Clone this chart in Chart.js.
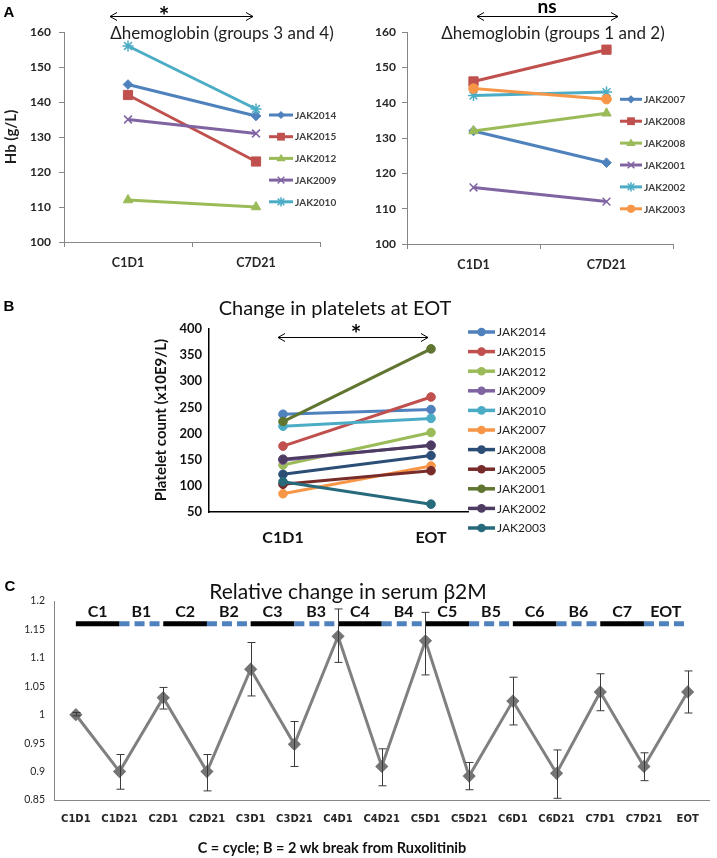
<!DOCTYPE html>
<html>
<head>
<meta charset="utf-8">
<script src="https://cdn.jsdelivr.net/npm/chart.js@4.4.1/dist/chart.umd.min.js"></script>
<style>
html,body{margin:0;padding:0;background:#fff;}
#page{position:relative;width:717px;height:858px;overflow:hidden;background:#fff;}
canvas{position:absolute;}
.t{position:absolute;white-space:nowrap;line-height:1;transform:translate(-50%,-50%);font-family:Lato,"Noto Sans",sans-serif;color:#1e1e1e;}
.rot{transform:translate(-50%,-50%) rotate(-90deg);}
.letter{font-family:"Liberation Sans",Arial,sans-serif;font-weight:bold;font-size:15px;color:#000;}
svg{position:absolute;left:0;top:0;}
</style>
</head>
<body>
<div id="page">
<canvas id="cA1" width="355" height="280" style="left:0;top:0"></canvas>
<canvas id="cA2" width="362" height="280" style="left:355px;top:0"></canvas>
<canvas id="cB" width="430" height="265" style="left:140px;top:290px"></canvas>
<canvas id="cC" width="717" height="265" style="left:0;top:570px"></canvas>

<svg width="717" height="858" viewBox="0 0 717 858">
  <g stroke="#000" stroke-width="1" fill="none">
    <path d="M110 16.5 L253 16.5 M117 12.5 L110 16.5 L117 20.5 M246 12.5 L253 16.5 L246 20.5"/>
    <path d="M477 16.5 L618 16.5 M484 12.5 L477 16.5 L484 20.5 M611 12.5 L618 16.5 L611 20.5"/>
    <path d="M278 337.5 L428 337.5 M285 333.5 L278 337.5 L285 341.5 M421 333.5 L428 337.5 L421 341.5"/>
  </g>
</svg>

<div class="t letter" style="left:9px;top:11px">A</div>
<div class="t letter" style="left:9px;top:305px">B</div>
<div class="t letter" style="left:10px;top:585px">C</div>

<div class="t" style="left:164px;top:15px;font-weight:bold;font-size:25px;color:#000">*</div>
<div class="t" style="left:547px;top:5px;font-weight:bold;font-size:19px;color:#000">ns</div>
<div class="t" style="left:356px;top:333px;font-weight:bold;font-size:25px;color:#000">*</div>

<div class="t" style="left:222px;top:32px;font-size:17px">Δhemoglobin (groups 3 and 4)</div>
<div class="t" style="left:553px;top:32px;font-size:17px">Δhemoglobin (groups 1 and 2)</div>
<div class="t rot" style="left:10px;top:137px;font-size:15px;font-weight:bold">Hb (g/L)</div>

<div class="t" style="left:335px;top:307px;font-size:20px;color:#111">Change in platelets at EOT</div>
<div class="t rot" style="left:160px;top:420px;font-size:15px;font-weight:bold;color:#111">Platelet count (x10E9/L)</div>

<div class="t" style="left:348px;top:590px;font-size:21px;color:#111">Relative change in serum β2M</div>
<div class="t" style="left:332px;top:848px;font-size:14.5px;font-weight:bold;color:#111">C = cycle; B = 2 wk break from Ruxolitinib</div>
</div>

<script>
// ---------------- DATA ----------------
const hbTimepoints = ['C1D1', 'C7D21'];
const hbTicks = [100, 110, 120, 130, 140, 150, 160];

const hbG34Patients = ['JAK2014', 'JAK2015', 'JAK2012', 'JAK2009', 'JAK2010'];
const hbG34Start = [145, 142, 112, 135, 156];
const hbG34End   = [136, 123, 110, 131, 138];

const hbG12Patients = ['JAK2007', 'JAK2008', 'JAK2008', 'JAK2001', 'JAK2002', 'JAK2003'];
const hbG12Start = [132, 146, 132, 116, 142, 144];
const hbG12End   = [123, 155, 137, 112, 143, 141];

const pltTimepoints = ['C1D1', 'EOT'];
const pltTicks = [50, 100, 150, 200, 250, 300, 350, 400];
const pltPatients = ['JAK2014', 'JAK2015', 'JAK2012', 'JAK2009', 'JAK2010', 'JAK2007', 'JAK2008', 'JAK2005', 'JAK2001', 'JAK2002', 'JAK2003'];
const pltStart = [237, 176, 140, 149, 214, 85, 122, 103, 223, 151, 108];
const pltEnd   = [246, 270, 202, 178, 229, 138, 158, 129, 362, 177, 65];

const b2mTimepoints = ['C1D1', 'C1D21', 'C2D1', 'C2D21', 'C3D1', 'C3D21', 'C4D1', 'C4D21', 'C5D1', 'C5D21', 'C6D1', 'C6D21', 'C7D1', 'C7D21', 'EOT'];
const b2mMean    = [1.0, 0.90, 1.03, 0.90, 1.08, 0.948, 1.138, 0.909, 1.13, 0.892, 1.024, 0.897, 1.04, 0.909, 1.04];
const b2mErrUp   = [0.004, 0.03, 0.018, 0.03, 0.047, 0.04, 0.048, 0.031, 0.05, 0.024, 0.042, 0.041, 0.032, 0.024, 0.037];
const b2mErrDown = [0.002, 0.031, 0.02, 0.034, 0.047, 0.039, 0.046, 0.034, 0.06, 0.024, 0.042, 0.044, 0.033, 0.025, 0.037];
const b2mTicks = [0.85, 0.9, 0.95, 1, 1.05, 1.1, 1.15, 1.2];
const phaseLabels = ['C1', 'B1', 'C2', 'B2', 'C3', 'B3', 'C4', 'B4', 'C5', 'B5', 'C6', 'B6', 'C7', 'EOT'];
const phaseLevel = 1.16;

// ---------------- STYLES ----------------
const BLUE = '#4F81BD', RED = '#C0504D', GREEN = '#9BBB59', PURPLE = '#8064A2', CYAN = '#4BACC6', ORANGE = '#F79646';
const hbG34Styles = [
  {c: BLUE, s: 'rectRot', r: 4.8, bw: 1},
  {c: RED, s: 'rect', r: 6.5, bw: 1},
  {c: GREEN, s: 'triangle', r: 5.5, bw: 1},
  {c: PURPLE, s: 'crossRot', r: 5.5, bw: 1.5},
  {c: CYAN, s: 'star', r: 5.5, bw: 1.5}
];
const hbG12Styles = [
  {c: BLUE, s: 'rectRot', r: 4.8, bw: 1},
  {c: RED, s: 'rect', r: 6.5, bw: 1},
  {c: GREEN, s: 'triangle', r: 5.5, bw: 1},
  {c: PURPLE, s: 'crossRot', r: 5.5, bw: 1.5},
  {c: CYAN, s: 'star', r: 5.5, bw: 1.5},
  {c: ORANGE, s: 'circle', r: 4.8, bw: 1}
];
const pltColors = ['#4F81BD', '#C0504D', '#9BBB59', '#8064A2', '#4BACC6', '#F79646', '#2C4D75', '#772C2A', '#5F7530', '#4D3B62', '#276A7C'];

const AXIS_GREY = '#868686';
const TXT = '#262626';

function fixedTicks(values) {
  return function (scale) { scale.ticks = values.map(v => ({value: v})); };
}

function drawMarker(ctx, style, r, x, y) {
  ctx.beginPath();
  if (style === 'circle') {
    ctx.arc(x, y, r, 0, Math.PI * 2); ctx.fill();
  } else if (style === 'rect') {
    const h = r * Math.SQRT1_2; ctx.rect(x - h, y - h, 2 * h, 2 * h); ctx.fill();
  } else if (style === 'rectRot') {
    ctx.moveTo(x, y - r); ctx.lineTo(x + r, y); ctx.lineTo(x, y + r); ctx.lineTo(x - r, y); ctx.closePath(); ctx.fill();
  } else if (style === 'triangle') {
    ctx.moveTo(x, y - r); ctx.lineTo(x + r, y + r * 0.6); ctx.lineTo(x - r, y + r * 0.6); ctx.closePath(); ctx.fill();
  } else if (style === 'crossRot' || style === 'star') {
    const d = r * Math.SQRT1_2;
    ctx.moveTo(x - d, y - d); ctx.lineTo(x + d, y + d);
    ctx.moveTo(x - d, y + d); ctx.lineTo(x + d, y - d);
    if (style === 'star') { ctx.moveTo(x - r, y); ctx.lineTo(x + r, y); ctx.moveTo(x, y - r); ctx.lineTo(x, y + r); }
    ctx.stroke();
  }
}

function legendPlugin(labels, styles, cfg) {
  return {
    id: 'customLegend',
    afterDraw(chart) {
      const ctx = chart.ctx;
      ctx.save();
      labels.forEach((lab, i) => {
        const st = styles[i];
        const y = cfg.y0 + i * cfg.dy;
        ctx.strokeStyle = st.c; ctx.fillStyle = st.c;
        ctx.lineWidth = cfg.lw;
        ctx.beginPath(); ctx.moveTo(cfg.x0, y); ctx.lineTo(cfg.x0 + cfg.len, y); ctx.stroke();
        ctx.lineWidth = st.bw;
        drawMarker(ctx, st.s, st.r * cfg.ms, cfg.x0 + cfg.len / 2, y);
        ctx.fillStyle = cfg.color;
        ctx.font = cfg.font;
        ctx.textAlign = 'left'; ctx.textBaseline = 'middle';
        ctx.fillText(lab, cfg.x0 + cfg.len + cfg.gap, y + 0.5);
      });
      ctx.restore();
    }
  };
}

function boxLayout(canvas, box) {
  return {padding: {left: 0, top: box.top, right: canvas.width - box.right, bottom: 0}};
}

// ---------------- PANEL A ----------------
function hbChart(id, patients, start, end, styles, box, yPad, legendCfg) {
  const cv = document.getElementById(id);
  return new Chart(cv, {
    type: 'line',
    data: {
      labels: hbTimepoints,
      datasets: patients.map((p, i) => ({
        label: p,
        data: [start[i], end[i]],
        borderColor: styles[i].c,
        backgroundColor: styles[i].c,
        pointBackgroundColor: styles[i].c,
        pointBorderColor: styles[i].c,
        pointStyle: styles[i].s,
        pointRadius: styles[i].r,
        pointBorderWidth: styles[i].bw,
        borderWidth: 3,
        tension: 0,
        order: -i
      }))
    },
    options: {
      responsive: false, animation: false, events: [],
      layout: boxLayout(cv, box),
      plugins: {legend: {display: false}, tooltip: {enabled: false}, title: {display: false}},
      scales: {
        x: {
          type: 'category', offset: true,
          grid: {display: true, offset: true, drawOnChartArea: false, drawTicks: true, tickLength: 5, color: AXIS_GREY},
          border: {display: true, color: AXIS_GREY, width: 1},
          ticks: {color: TXT, font: {family: 'Lato', weight: 'bold', size: 12.5}, padding: 8, maxRotation: 0, autoSkip: false},
          afterFit: s => { s.height = cv.height - box.bottom; }
        },
        y: {
          min: 100, max: 160,
          afterBuildTicks: fixedTicks(hbTicks),
          grid: {display: true, drawOnChartArea: false, drawTicks: true, tickLength: 5, color: AXIS_GREY},
          border: {display: true, color: AXIS_GREY, width: 1},
          ticks: {color: TXT, font: {family: 'Lato', weight: 'bold', size: 12}, padding: yPad, callback: v => String(v)},
          afterFit: s => { s.width = box.left; }
        }
      }
    },
    plugins: [legendPlugin(patients, styles, legendCfg)]
  });
}

hbChart('cA1', hbG34Patients, hbG34Start, hbG34End, hbG34Styles,
  {left: 64, top: 32, right: 320, bottom: 242}, 8,
  {x0: 269, len: 24, gap: 2, y0: 115, dy: 21.7, lw: 3, ms: 0.85, font: 'bold 10px Lato', color: '#404040'});

hbChart('cA2', hbG12Patients, hbG12Start, hbG12End, hbG12Styles,
  {left: 52, top: 32, right: 318, bottom: 244}, 6,
  {x0: 265, len: 22, gap: 2, y0: 99.3, dy: 21.9, lw: 3, ms: 0.85, font: 'bold 10px Lato', color: '#404040'});

// ---------------- PANEL B ----------------
(function () {
  const cv = document.getElementById('cB');
  const box = {left: 69, top: 39, right: 328, bottom: 222};
  const styles = pltColors.map(c => ({c: c, s: 'circle', r: 4.3, bw: 1}));
  new Chart(cv, {
    type: 'line',
    data: {
      datasets: pltPatients.map((p, i) => ({
        label: p,
        data: [{x: 0, y: pltStart[i]}, {x: 1, y: pltEnd[i]}],
        borderColor: pltColors[i],
        backgroundColor: pltColors[i],
        pointBackgroundColor: pltColors[i],
        pointBorderColor: pltColors[i],
        pointStyle: 'circle',
        pointRadius: 4.3,
        pointBorderWidth: 1,
        borderWidth: 3,
        tension: 0,
        order: -i
      }))
    },
    options: {
      responsive: false, animation: false, events: [],
      layout: boxLayout(cv, box),
      plugins: {legend: {display: false}, tooltip: {enabled: false}},
      scales: {
        x: {
          type: 'linear', min: -0.5, max: 1.25,
          afterBuildTicks: s => { s.ticks = pltTimepoints.map((t, i) => ({value: i})); },
          grid: {display: false, drawTicks: false},
          border: {display: true, color: '#000', width: 1.5},
          ticks: {color: '#111', font: {family: 'Lato', weight: 'bold', size: 16}, padding: 16, maxRotation: 0,
            callback: v => pltTimepoints[v]},
          afterFit: s => { s.height = cv.height - box.bottom; }
        },
        y: {
          min: 50, max: 400,
          afterBuildTicks: fixedTicks(pltTicks),
          grid: {display: false, drawTicks: false},
          border: {display: true, color: '#000', width: 1.5},
          ticks: {color: '#111', font: {family: 'Lato', weight: 'bold', size: 13}, padding: 7, callback: v => String(v)},
          afterFit: s => { s.width = box.left; }
        }
      }
    },
    plugins: [legendPlugin(pltPatients, styles,
      {x0: 328, len: 27, gap: 2, y0: 42, dy: 19.6, lw: 3.5, ms: 1, font: '12px Lato', color: '#222'})]
  });
})();

// ---------------- PANEL C ----------------
(function () {
  const cv = document.getElementById('cC');
  const box = {left: 54, top: 31, right: 717, bottom: 230};
  const errorBars = {
    id: 'errorBars',
    afterDatasetsDraw(chart) {
      const ctx = chart.ctx, xs = chart.scales.x, ys = chart.scales.y;
      ctx.save();
      ctx.strokeStyle = '#3a3a3a'; ctx.lineWidth = 1;
      b2mMean.forEach((m, i) => {
        const x = Math.round(xs.getPixelForValue(i)) + 0.5;
        const yt = ys.getPixelForValue(m + b2mErrUp[i]);
        const yb = ys.getPixelForValue(m - b2mErrDown[i]);
        ctx.beginPath();
        ctx.moveTo(x, yt); ctx.lineTo(x, yb);
        ctx.moveTo(x - 4, yt); ctx.lineTo(x + 4, yt);
        ctx.moveTo(x - 4, yb); ctx.lineTo(x + 4, yb);
        ctx.stroke();
      });
      ctx.restore();
    }
  };
  const phaseText = {
    id: 'phaseText',
    afterDraw(chart) {
      const ctx = chart.ctx, xs = chart.scales.x, ys = chart.scales.y;
      ctx.save();
      ctx.fillStyle = '#111';
      ctx.font = 'bold 16px Lato';
      ctx.textAlign = 'center'; ctx.textBaseline = 'middle';
      const y = ys.getPixelForValue(phaseLevel) - 12;
      phaseLabels.forEach((lab, i) => {
        const x = (xs.getPixelForValue(i) + xs.getPixelForValue(i + 1)) / 2;
        ctx.fillText(lab, x, y);
      });
      ctx.restore();
    }
  };
  new Chart(cv, {
    type: 'line',
    data: {
      labels: b2mTimepoints,
      datasets: [
        {
          label: 'phase',
          data: b2mTimepoints.map(() => phaseLevel),
          borderWidth: 5,
          borderCapStyle: 'butt',
          pointRadius: 0,
          borderColor: '#000',
          segment: {
            borderColor: ctx => ctx.p0DataIndex % 2 === 0 ? '#000000' : '#4F81BD',
            borderDash: ctx => ctx.p0DataIndex % 2 === 0 ? [] : [10, 5]
          },
          order: -2
        },
        {
          label: 'Relative change in serum β2M',
          data: b2mMean,
          borderColor: '#808080',
          borderWidth: 3,
          pointStyle: 'rectRot',
          pointRadius: 4.5,
          pointBackgroundColor: '#747474',
          pointBorderColor: '#747474',
          tension: 0,
          order: -1
        }
      ]
    },
    options: {
      responsive: false, animation: false, events: [],
      layout: boxLayout(cv, box),
      plugins: {legend: {display: false}, tooltip: {enabled: false}},
      scales: {
        x: {
          type: 'category', offset: true,
          grid: {display: false, drawTicks: false},
          border: {display: true, color: AXIS_GREY, width: 1},
          ticks: {color: '#262626', font: {family: 'DejaVu Sans', weight: 'bold', size: 10}, padding: 13, maxRotation: 0, autoSkip: false},
          afterFit: s => { s.height = cv.height - box.bottom; }
        },
        y: {
          min: 0.85, max: 1.2,
          afterBuildTicks: fixedTicks(b2mTicks),
          grid: {display: false, drawTicks: false},
          border: {display: true, color: AXIS_GREY, width: 1},
          ticks: {color: '#262626', font: {family: 'Lato', size: 10.5}, padding: 9, callback: v => String(v)},
          afterFit: s => { s.width = box.left; }
        }
      }
    },
    plugins: [errorBars, phaseText]
  });
})();
</script>
</body>
</html>
